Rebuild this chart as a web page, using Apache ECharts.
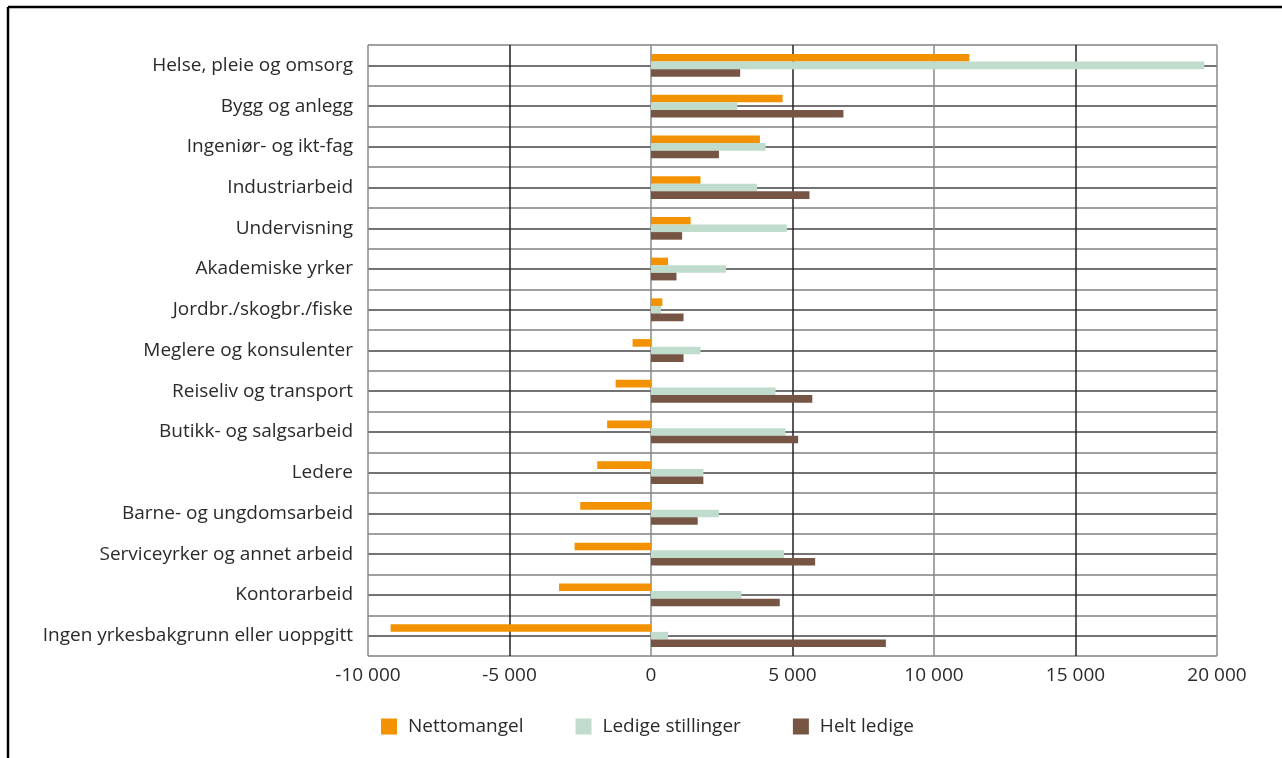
<!DOCTYPE html>
<html>
<head>
<meta charset="utf-8">
<script src="https://cdn.jsdelivr.net/npm/echarts@6/dist/echarts.min.js"></script>
<style>
html,body{margin:0;padding:0;background:#fff;}
#c{width:1282px;height:758px;}
</style>
</head>
<body>
<div id="c"></div>
<script>
var categories = ["Helse, pleie og omsorg","Bygg og anlegg","Ingeniør- og ikt-fag","Industriarbeid","Undervisning","Akademiske yrker","Jordbr./skogbr./fiske","Meglere og konsulenter","Reiseliv og transport","Butikk- og salgsarbeid","Ledere","Barne- og ungdomsarbeid","Serviceyrker og annet arbeid","Kontorarbeid","Ingen yrkesbakgrunn eller uoppgitt"];
var nettomangel = [11250,4650,3850,1750,1400,600,400,-650,-1250,-1550,-1900,-2500,-2700,-3250,-9200];
var ledigeStillinger = [19550,3050,4050,3750,4800,2650,350,1750,4400,4750,1850,2400,4700,3200,600];
var heltLedige = [3150,6800,2400,5600,1100,900,1150,1150,5700,5200,1850,1650,5800,4550,8300];
var seriesNames = ["Nettomangel","Ledige stillinger","Helt ledige"];
var xTicks = {min:-10000, max:20000, interval:5000};

var FONT = "Open Sans";
var TXT = "#2a2a2a";
var FS = 19;
function fmt(v){
  var s = Math.abs(v).toString().replace(/\B(?=(\d{3})+(?!\d))/g, " ");
  return (v < 0 ? "-" : "") + s;
}
var chart = echarts.init(document.getElementById("c"), null, {renderer:"canvas"});
var barW = 7.6;
chart.setOption({
  animation:false,
  backgroundColor:"#fff",
  textStyle:{fontFamily:FONT},
  grid:{left:368, right:65, top:45, bottom:102, containLabel:false},
  legend:{
    left:381, top:717, padding:0, itemWidth:16, itemHeight:16, itemGap:52,
    icon:"rect",
    textStyle:{fontFamily:FONT, fontSize:FS, color:TXT, padding:[0,0,0,6]},
    data:seriesNames
  },
  xAxis:{
    type:"value", min:xTicks.min, max:xTicks.max, interval:xTicks.interval,
    axisLine:{show:false}, axisTick:{show:false},
    axisLabel:{fontFamily:FONT, fontSize:FS, color:TXT, margin:10, formatter:fmt},
    splitLine:{show:true, lineStyle:{color:["#888","#222","#888","#222","#888","#222","#888"], width:1.5}}
  },
  yAxis:[{
    type:"category", inverse:true, data:categories,
    axisLine:{show:false}, axisTick:{show:false},
    axisLabel:{fontFamily:FONT, fontSize:FS, color:TXT, margin:15},
    splitLine:{show:false}
  },{
    type:"value", min:0, max:categories.length*2, interval:1, position:"left",
    axisLine:{show:false}, axisTick:{show:false}, axisLabel:{show:false},
    splitLine:{show:true, lineStyle:{color:["#808080","#444"], width:1.5}}
  }],
  series:[
    {name:seriesNames[0], type:"bar", yAxisIndex:0, data:nettomangel, barWidth:barW, barGap:"0%", itemStyle:{color:"#F39200"}},
    {name:seriesNames[1], type:"bar", yAxisIndex:0, data:ledigeStillinger, barWidth:barW, barGap:"0%", itemStyle:{color:"#C0DCCD"}},
    {name:seriesNames[2], type:"bar", yAxisIndex:0, data:heltLedige, barWidth:barW, barGap:"0%", itemStyle:{color:"#765545"}}
  ],
  graphic:[
    {type:"line", shape:{x1:8, y1:7, x2:1282, y2:7}, style:{stroke:"#000", lineWidth:2.5}, z:100},
    {type:"line", shape:{x1:8, y1:7, x2:8, y2:758}, style:{stroke:"#000", lineWidth:2.5}, z:100}
  ]
});
</script>
</body>
</html>
